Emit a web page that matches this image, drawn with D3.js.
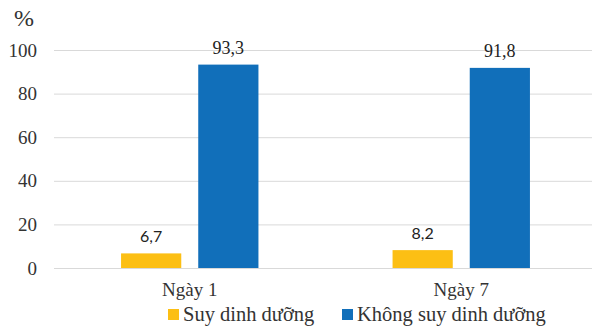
<!DOCTYPE html>
<html>
<head>
<meta charset="utf-8">
<script src="https://cdn.jsdelivr.net/npm/d3@7"></script>
<style>
  html, body { margin: 0; padding: 0; background: #fff; }
  svg { display: block; }
  .serif { font-family: "Liberation Serif", "Times New Roman", serif; }
  .sans { font-family: Lato, "Liberation Sans", sans-serif; }
</style>
</head>
<body>
<svg id="chart" width="592" height="330"></svg>
<script>
// Nutrition status on day 1 and day 7 (%)
const categories = ["Ngày 1", "Ngày 7"];
const seriesNames = ["Suy dinh dưỡng", "Không suy dinh dưỡng"];
const malnourished = [6.7, 8.2];
const notMalnourished = [93.3, 91.8];
const yTicks = [0, 20, 40, 60, 80, 100];
const colors = ["#FCBF14", "#116FBA"];
// value-label typefaces per series
const labelClass = ["sans", "serif"];
const labelSize = ["16px", "18px"];

const values = [malnourished, notMalnourished];
const rows = categories.map((c, i) => ({
  cat: c,
  vals: seriesNames.map((s, j) => ({ key: s, idx: j, v: values[j][i] }))
}));

const svg = d3.select("#chart");
const plotLeft = 54, plotRight = 597, plotTop = 50, plotBottom = 268;

const x = d3.scaleBand().domain(categories).range([plotLeft, plotRight]).paddingInner(0).paddingOuter(0);
const y = d3.scaleLinear().domain([0, 100]).range([plotBottom, plotTop]);
const bw = x.bandwidth();
const xInner = d3.scaleBand().domain(d3.range(seriesNames.length))
  .range([bw * 0.247, bw * 0.753]).paddingInner(0.22).paddingOuter(0);

// gridlines
svg.append("g")
  .selectAll("line")
  .data(yTicks)
  .join("line")
  .attr("x1", plotLeft).attr("x2", plotRight)
  .attr("y1", d => y(d) + 0.5).attr("y2", d => y(d) + 0.5)
  .attr("stroke", "#d9d9d9").attr("stroke-width", 1);

// y axis labels
const yAxis = svg.append("g")
  .attr("transform", `translate(${plotLeft - 17},0)`)
  .call(d3.axisLeft(y).tickValues(yTicks).tickSize(0).tickPadding(0));
yAxis.attr("font-family", null).attr("font-size", null);
yAxis.select(".domain").remove();
yAxis.selectAll("text")
  .attr("class", "serif").style("font-size", "19px").attr("fill", "#333");

svg.append("text")
  .attr("class", "serif")
  .attr("x", 14).attr("y", 26)
  .style("font-size", "24px").attr("fill", "#333")
  .text("%");

// bars
const groups = svg.append("g")
  .selectAll("g")
  .data(rows)
  .join("g")
  .attr("transform", d => `translate(${x(d.cat)},0)`);

groups.selectAll("rect")
  .data(d => d.vals)
  .join("rect")
  .attr("x", d => xInner(d.idx))
  .attr("width", xInner.bandwidth())
  .attr("y", d => y(d.v))
  .attr("height", d => y(0) - y(d.v))
  .attr("fill", d => colors[d.idx]);

groups.selectAll("text.val")
  .data(d => d.vals)
  .join("text")
  .attr("class", d => "val " + labelClass[d.idx])
  .attr("x", d => xInner(d.idx) + xInner.bandwidth() / 2)
  .attr("y", d => y(d.v) - 11)
  .attr("text-anchor", "middle")
  .style("font-size", d => labelSize[d.idx]).attr("fill", "#222")
  .text(d => d3.format(".1f")(d.v).replace(".", ","));

// x axis labels
const xAxis = svg.append("g")
  .attr("transform", `translate(0,${plotBottom})`)
  .call(d3.axisBottom(x).tickSize(0).tickPadding(14.5));
xAxis.attr("font-family", null).attr("font-size", null);
xAxis.select(".domain").remove();
xAxis.selectAll("text")
  .attr("class", "serif").style("font-size", "19px").attr("fill", "#333");

// legend
const legendX = [168, 342];
const legend = svg.append("g")
  .selectAll("g")
  .data(seriesNames)
  .join("g")
  .attr("transform", (d, i) => `translate(${legendX[i]},309)`);
legend.append("rect")
  .attr("width", 11).attr("height", 11)
  .attr("fill", (d, i) => colors[i]);
legend.append("text")
  .attr("class", "serif")
  .attr("x", 15).attr("y", 11.5)
  .style("font-size", "20.5px").attr("fill", "#333")
  .text(d => d);
</script>
</body>
</html>
